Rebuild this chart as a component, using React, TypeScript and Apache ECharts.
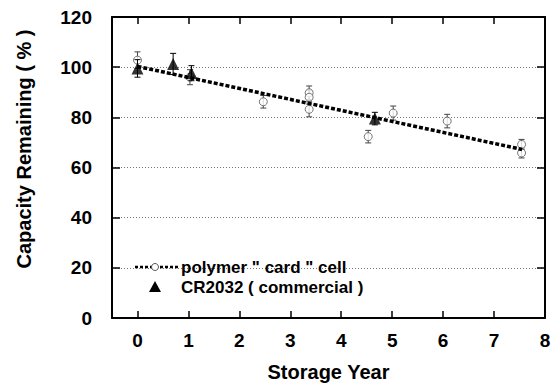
import React, { useEffect, useRef } from "react";
import * as echarts from "echarts";

// Polymer "card" cell: storage year, capacity remaining (%), error (±)
const polymerX = [0, 1.03, 2.47, 3.37, 3.37, 3.37, 4.53, 5.02, 6.08, 7.54, 7.54];
const polymerY = [102.8, 96, 86.2, 89.8, 88, 83.2, 72.3, 81.7, 78.5, 69.2, 65.8];
const polymerErr = [3.3, 3, 2.5, 2.7, 2.7, 3, 2.5, 2.8, 2.7, 2, 2];

// CR2032 (commercial)
const crX = [0, 0.7, 1.06, 4.66];
const crY = [99.5, 101.3, 97.6, 79.5];
const crErr = [3.5, 4.2, 3, 2.5];

// Fit line for polymer card cell
const fitX = [0, 7.55];
const fitY = [100.3, 67.2];

const xTicks = [0, 1, 2, 3, 4, 5, 6, 7, 8];
const yTicks = [0, 20, 40, 60, 80, 100, 120];

const FONT = "'Liberation Sans', Arial, Helvetica, sans-serif";

export default function App() {
  const ref = useRef<HTMLDivElement>(null);
  useEffect(() => {
    if (!ref.current) return;
    const chart = echarts.init(ref.current, null, { renderer: "svg" });

    const polyPts = polymerX.map((x, i) => [x, polymerY[i]]);
    const polyErr = polymerX.map((x, i) => [x, polymerY[i], polymerY[i] - polymerErr[i], polymerY[i] + polymerErr[i]]);
    const crPts = crX.map((x, i) => [x, crY[i]]);
    const crErrData = crX.map((x, i) => [x, crY[i], crY[i] - crErr[i], crY[i] + crErr[i]]);
    const fitData = fitX.map((x, i) => [x, fitY[i]]);

    const errRender = (color: string) => (params: any, api: any) => {
      const x = api.value(0);
      const lo = api.coord([x, api.value(2)]);
      const hi = api.coord([x, api.value(3)]);
      const w = 3;
      const style = { stroke: color, lineWidth: 1 };
      return {
        type: "group",
        children: [
          { type: "line", shape: { x1: lo[0], y1: lo[1], x2: hi[0], y2: hi[1] }, style },
          { type: "line", shape: { x1: lo[0] - w, y1: lo[1], x2: lo[0] + w, y2: lo[1] }, style },
          { type: "line", shape: { x1: hi[0] - w, y1: hi[1], x2: hi[0] + w, y2: hi[1] }, style },
        ],
      };
    };

    const axisLabelStyle = { color: "#000", fontFamily: FONT, fontWeight: "bold" as const, fontSize: 19 };

    chart.setOption({
      animation: false,
      backgroundColor: "#fff",
      grid: { left: 112, right: 14, top: 17, bottom: 71, containLabel: false },
      xAxis: [
        {
          type: "value",
          min: -0.5,
          max: 8,
          position: "bottom",
          axisLine: { show: true, onZero: false, lineStyle: { color: "#000", width: 2 } },
          axisTick: { show: true, inside: true, length: 7, customValues: xTicks, lineStyle: { color: "#000", width: 1.5 } },
          axisLabel: { show: true, customValues: xTicks, margin: 13, ...axisLabelStyle },
          splitLine: { show: false },
          name: "Storage Year",
          nameLocation: "middle",
          nameGap: 44,
          nameTextStyle: { color: "#000", fontFamily: FONT, fontWeight: "bold", fontSize: 20 },
        },
        {
          type: "value",
          min: -0.5,
          max: 8,
          position: "top",
          axisLine: { show: true, onZero: false, lineStyle: { color: "#000", width: 2 } },
          axisTick: { show: true, inside: true, length: 7, customValues: xTicks, lineStyle: { color: "#000", width: 1.5 } },
          axisLabel: { show: false },
          splitLine: { show: false },
        },
      ],
      yAxis: [
        {
          type: "value",
          min: 0,
          max: 120,
          interval: 20,
          position: "left",
          axisLine: { show: true, onZero: false, lineStyle: { color: "#000", width: 2 } },
          axisTick: { show: true, inside: true, length: 8, lineStyle: { color: "#000", width: 1.5 } },
          axisLabel: { show: true, margin: 20, ...axisLabelStyle },
          splitLine: { show: true, lineStyle: { color: "#777", type: [1, 2], width: 1 } },
        },
        {
          type: "value",
          min: 0,
          max: 120,
          interval: 20,
          position: "right",
          axisLine: { show: true, onZero: false, lineStyle: { color: "#000", width: 2 } },
          axisTick: { show: true, inside: true, length: 8, lineStyle: { color: "#000", width: 1.5 } },
          axisLabel: { show: false },
          splitLine: { show: false },
        },
      ],
      series: [
        {
          name: "polymer err",
          type: "custom",
          renderItem: errRender("#444"),
          data: polyErr,
          encode: { x: 0, y: 1 },
          z: 2,
        },
        {
          name: "polymer \" card \" cell",
          type: "scatter",
          data: polyPts,
          symbol: "circle",
          symbolSize: 8,
          itemStyle: { color: "#fff", borderColor: "#555", borderWidth: 1 },
          z: 3,
        },
        {
          name: "fit",
          type: "line",
          data: fitData,
          showSymbol: false,
          symbol: "none",
          lineStyle: { color: "#000", width: 3.5, type: [4, 2] },
          z: 4,
        },
        {
          name: "cr err",
          type: "custom",
          renderItem: errRender("#000"),
          data: crErrData,
          encode: { x: 0, y: 1 },
          z: 5,
        },
        {
          name: "CR2032 ( commercial )",
          type: "scatter",
          data: crPts,
          symbol: "triangle",
          symbolSize: 12,
          itemStyle: { color: "#000" },
          z: 6,
        },
      ],
      graphic: [
        {
          type: "text",
          x: 24,
          y: 149,
          rotation: Math.PI / 2,
          style: {
            text: "Capacity Remaining ( % )",
            fill: "#000",
            font: `bold 20px ${FONT}`,
            textAlign: "center",
            textVerticalAlign: "middle",
          },
        },
        {
          type: "line",
          shape: { x1: 135, y1: 267, x2: 178, y2: 267 },
          style: { stroke: "#000", lineWidth: 2.5, lineDash: [3, 2] },
          z: 10,
        },
        {
          type: "circle",
          shape: { cx: 155, cy: 267, r: 3.5 },
          style: { fill: "#fff", stroke: "#555", lineWidth: 1 },
          z: 11,
        },
        {
          type: "text",
          x: 181,
          y: 267,
          style: {
            text: "polymer \" card \" cell",
            fill: "#000",
            font: `bold 17px ${FONT}`,
            textVerticalAlign: "middle",
          },
          z: 10,
        },
        {
          type: "polygon",
          shape: { points: [[155, 281], [161, 292], [149, 292]] },
          style: { fill: "#000" },
          z: 10,
        },
        {
          type: "text",
          x: 181,
          y: 287,
          style: {
            text: "CR2032 ( commercial )",
            fill: "#000",
            font: `bold 17px ${FONT}`,
            textVerticalAlign: "middle",
          },
          z: 10,
        },
      ],
    });
    return () => chart.dispose();
  }, []);
  return <div ref={ref} style={{ width: 559, height: 389, position: "absolute", left: 0, top: 0 }} />;
}
